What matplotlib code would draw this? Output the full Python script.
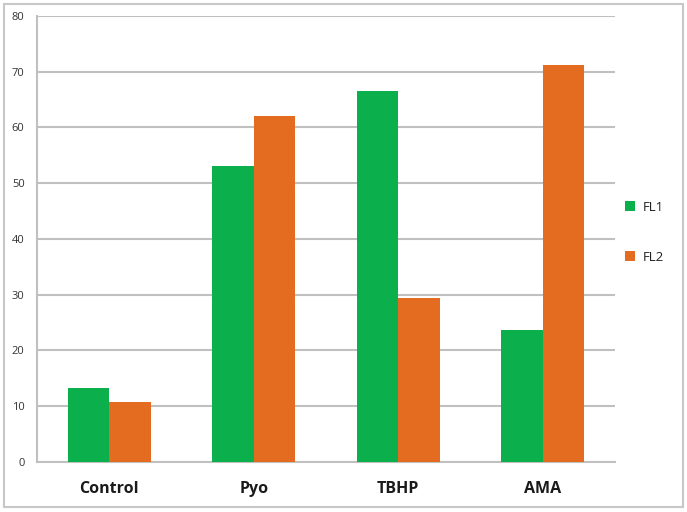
import numpy as np
import matplotlib
matplotlib.use("Agg")
import matplotlib.pyplot as plt
from matplotlib.patches import Rectangle

categories = ["Control", "Pyo", "TBHP", "AMA"]
fl1 = [13.2, 53.0, 66.6, 23.7]
fl2 = [10.7, 62.1, 29.4, 71.1]
series_names = ["FL1", "FL2"]
colors = ["#0bb04d", "#e36c21"]

plt.rcParams["font.family"] = ["Open Sans", "DejaVu Sans"]

fig = plt.figure(figsize=(6.87, 5.12), dpi=100)
ax = fig.add_axes([0.054, 0.098, 0.841, 0.871])

x = np.arange(len(categories))
w = 0.287
ax.bar(x - w / 2, fl1, width=w, color=colors[0], label=series_names[0], zorder=3)
ax.bar(x + w / 2, fl2, width=w, color=colors[1], label=series_names[1], zorder=3)

ax.set_xlim(-0.5, 3.5)
ax.set_ylim(0, 80)
ax.set_yticks(range(0, 81, 10))
ax.yaxis.grid(True, color="#c0c0c0", linewidth=1.5, zorder=0)
ax.set_axisbelow(True)

for s in ["top", "right"]:
    ax.spines[s].set_visible(False)
ax.spines["left"].set_color("#c0c0c0")
ax.spines["bottom"].set_color("#c0c0c0")
ax.spines["left"].set_linewidth(1.5)
ax.spines["bottom"].set_linewidth(1.5)

ax.set_xticks(x)
ax.set_xticklabels(categories, fontsize=11.5, fontweight="bold", color="#1a1a1a")
ax.tick_params(axis="x", length=0, pad=14)
ax.tick_params(axis="y", length=0, pad=9, labelsize=8, labelcolor="#333333")

leg = ax.legend(loc="center left", bbox_to_anchor=(1.0, 0.515), frameon=False,
                fontsize=9.5, handlelength=0.7, handleheight=0.7,
                labelspacing=2.8, handletextpad=0.6, borderaxespad=0.4)
for t in leg.get_texts():
    t.set_color("#222222")

fig.patches.append(Rectangle((0.006, 0.01), 0.988, 0.982, transform=fig.transFigure,
                             fill=False, edgecolor="#c8c8c8", linewidth=1.5))

fig.savefig("out.png", dpi=100)
